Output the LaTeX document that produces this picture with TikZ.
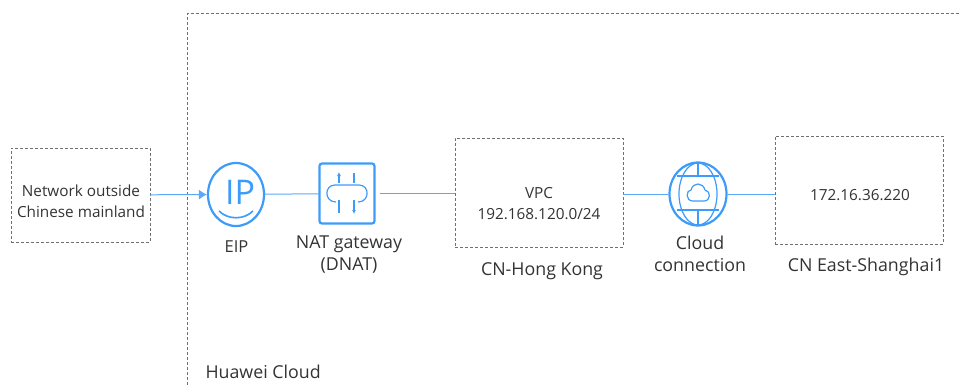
\documentclass[tikz,border=0pt]{standalone}
\usepackage{fontspec}
\setmainfont{Open Sans}
\usepackage{tikz}
\usetikzlibrary{arrows.meta,shapes.geometric}
\definecolor{iconblue}{HTML}{3D9BFA}
\definecolor{linkblue}{HTML}{5AA9F8}
\definecolor{zonegray}{HTML}{707070}
\definecolor{labelgray}{HTML}{333333}
\def\lbl{\fontsize{15.3}{21}\selectfont}
\def\cpt{\fontsize{17.8}{21.5}\selectfont}

\begin{document}
\begin{tikzpicture}[x=1pt,y=-1pt,
    zone/.style={draw=zonegray,dash pattern=on 3pt off 2pt,line width=0.7pt},
    boxtext/.style={align=center,text=labelgray,font=\lbl},
    caption/.style={align=center,text=labelgray,font=\cpt},
    link/.style={draw=linkblue,line width=1pt},
    icon/.style={draw=iconblue,line width=2.2pt},
    iconline/.style={draw=iconblue,line width=1.2pt}]
    \useasboundingbox (0,0) rectangle (961,385);
    % Huawei Cloud frame
    \coordinate (FrameA) at (187,385);
    \coordinate (FrameB) at (187,13.5);
    \coordinate (FrameC) at (961,13.5);
    \draw[zone] (FrameA) -- (FrameB) -- (FrameC);
    \draw
    (202,372) node[caption,anchor=west](Huawei) {Huawei Cloud}
    (80.5,195) node[zone,minimum width=139,minimum height=94](Net) {}
    (539,192.5) node[zone,minimum width=168,minimum height=109](VPC) {}
    (859,190) node[zone,minimum width=168,minimum height=108](SH) {}
    (81,201.5) node[boxtext](NetText) {Network outside\\Chinese mainland}
    (539,204) node[boxtext](VPCText) {VPC\\192.168.120.0/24}
    (860,195) node[boxtext](SHText) {172.16.36.220};
    % icons
    \node[icon,ellipse,minimum width=56,minimum height=63,inner sep=0pt](EIP) at (236,194.5) {};
    \node[icon,rounded corners=2.5pt,minimum width=55,minimum height=60,inner sep=0pt](NAT) at (347,193.5) {};
    \node[icon,ellipse,minimum width=57,minimum height=63,inner sep=0pt](Cloud) at (698,194) {};
    \node[text=iconblue,inner sep=0pt,font=\fontsize{34}{34}\selectfont](IP) at (240,192) {IP};
    \draw[iconline,line width=1.6pt] (219,211) .. controls (228,220) and (244,220) .. (253,211);
    % NAT symbol
    \draw[iconline] (336,202) .. controls (324,202) and (324,185) .. (335,185) -- (359,185)
      .. controls (370,185) and (370,202) .. (358,202);
    \draw[iconline,-{Latex[length=4pt,width=4pt]}] (339,183) -- (339,172);
    \draw[iconline] (354,173) -- (354,183);
    \draw[iconline] (339,200) -- (339,213);
    \draw[iconline,-{Latex[length=4pt,width=4pt]}] (354,200) -- (354,214);
    % globe symbol
    \draw[iconline] (698,194) ellipse (19 and 31);
    \draw[iconline] (677,176) -- (719,176) (677,210) -- (719,210);
    \draw[iconline] (698,163) -- (698,176) (698,210) -- (698,225);
    \draw[iconline] (693,201) .. controls (685,201) and (686,190) .. (691,190)
      .. controls (693,182) and (703,182) .. (705,190)
      .. controls (711,191) and (711,201) .. (704,201) -- cycle;
    % captions
    \draw
    (236.5,247) node[caption,font=\fontsize{16.5}{20}\selectfont](EIPtext) {EIP}
    (349,254.5) node[caption](NATtext) {NAT gateway\\(DNAT)}
    (542,271) node[caption](HK) {CN-Hong Kong}
    (700,254) node[caption](Cloudtext) {Cloud\\connection}
    (866,267) node[caption](SHtext) {CN East-Shanghai1};
    % links
    \draw[link]
    (Net) edge[-{Latex[length=8pt,width=10pt]},linkblue] (EIP)
    (EIP) edge (NAT)
    (NAT) edge[shorten <=4pt] (NAT -| VPC.west)
    (VPC.east |- Cloud) edge (Cloud)
    (Cloud) edge (Cloud -| SH.west);
  \end{tikzpicture}
\end{document}
